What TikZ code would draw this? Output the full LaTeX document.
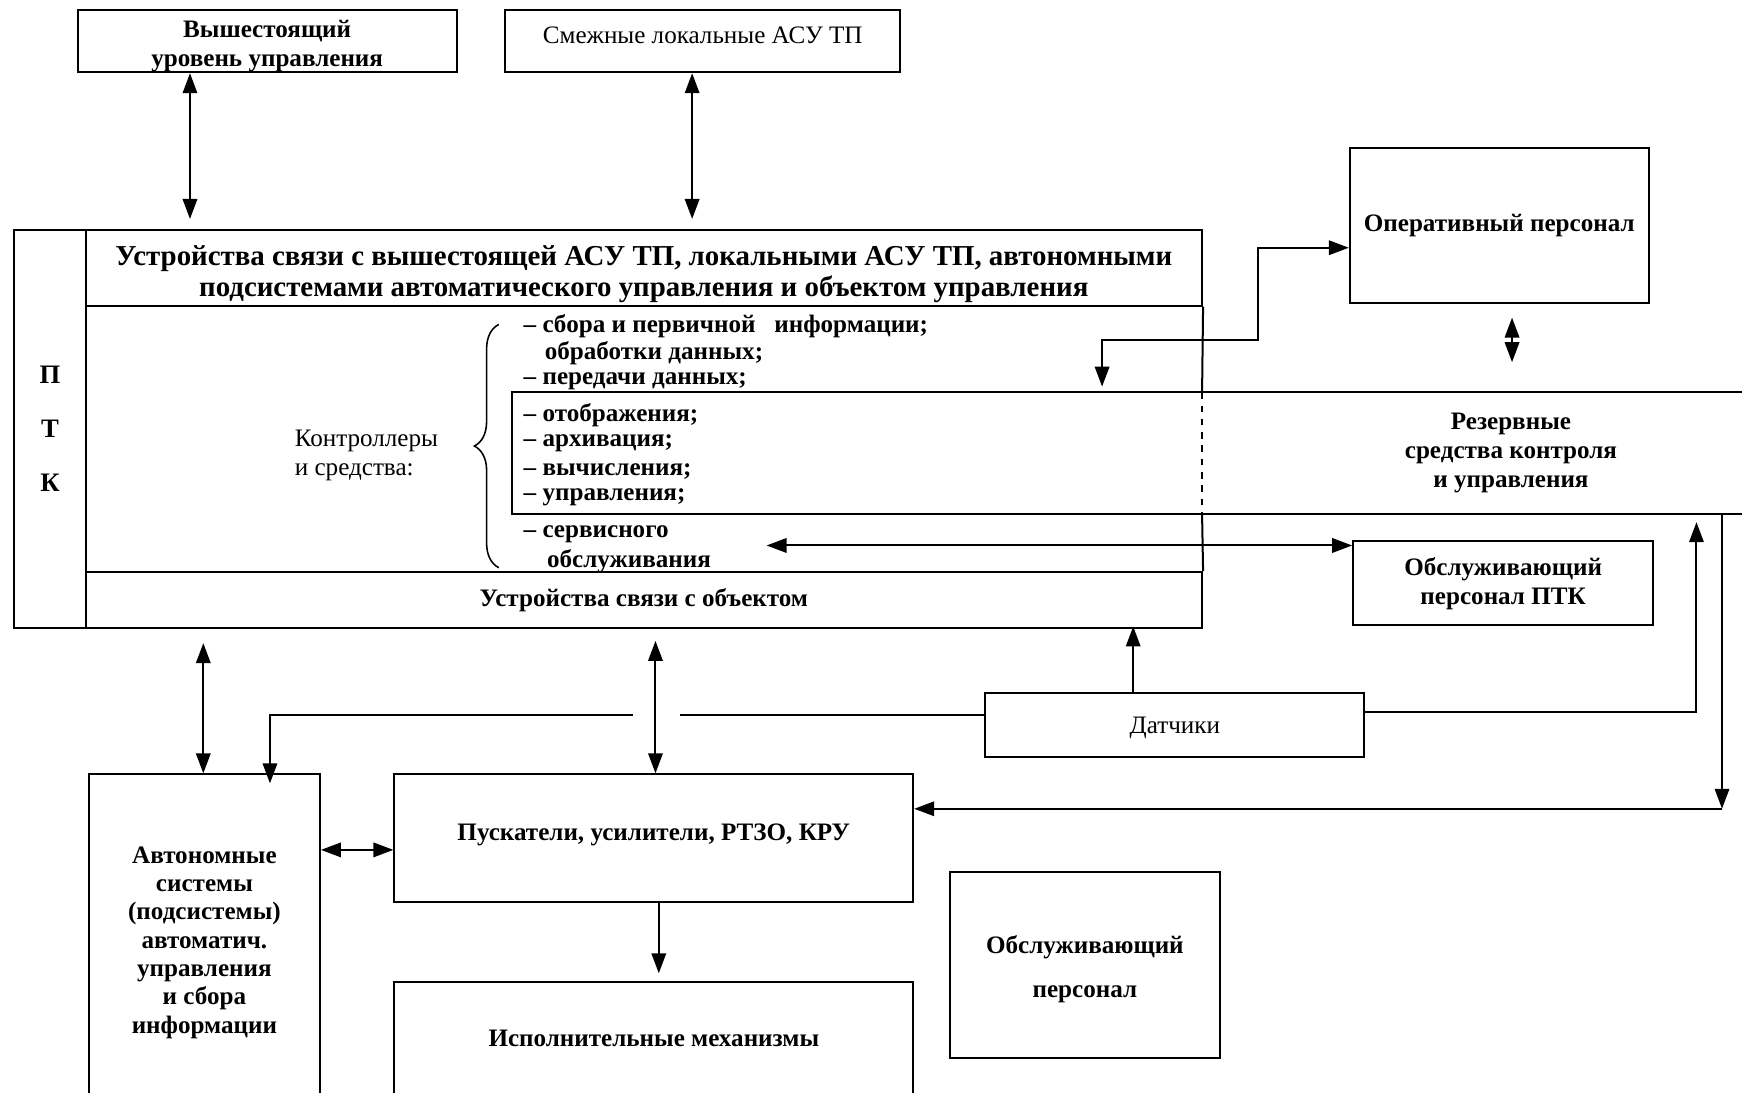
\documentclass[tikz,border=0pt]{standalone}
\usepackage{fontspec}
\setmainfont{Liberation Serif}
\usetikzlibrary{arrows.meta,decorations.pathreplacing}
\begin{document}
\begin{tikzpicture}[x=0.5pt,y=-0.5pt,
  edge/.style={line width=0.9pt},
  box/.style={draw, line width=0.9pt, inner sep=0pt, align=center},
  tb/.style={font=\fontsize{11.3}{13}\selectfont\bfseries, align=center},
  tr/.style={font=\fontsize{11.3}{13}\selectfont, align=center},
  arr/.style={edge, -{Triangle[length=9pt,width=6.5pt]}},
  dbl/.style={edge, {Triangle[length=9pt,width=6.5pt]}-{Triangle[length=9pt,width=6.5pt]}},
  item/.style={font=\fontsize{11.3}{13}\selectfont\bfseries, anchor=west, inner sep=0pt}
]
\useasboundingbox (0,0) rectangle (1568,983);

% top boxes
\node[box, tb, minimum width=170.5pt, minimum height=28pt] (A) at (240.5,37) {\rule{0pt}{12pt}Вышестоящий\\уровень управления};
\node[box, tr, minimum width=177.5pt, minimum height=28pt] (B) at (632.5,37) {Смежные локальные АСУ ТП\rule[-5.5pt]{0pt}{5.5pt}};

% main PTK block
\node[box, font=\fontsize{13}{14}\selectfont\bfseries, minimum width=502.5pt, minimum height=34pt] (hdr) at (579.5,241)
  {\rule{0pt}{15pt}Устройства связи с вышестоящей АСУ ТП, локальными АСУ ТП, автономными\\подсистемами автоматического управления и объектом управления};
\node[box, font=\fontsize{12}{24.5}\selectfont\bfseries, minimum width=32pt, minimum height=179pt] (ptk) at (45,386) {П\\Т\\К};
\node[box, tb, minimum width=502.5pt, minimum height=25pt] (svo) at (579.5,540) {Устройства связи с объектом};
\draw[edge] (hdr.south east) -- (1082,353);
\draw[edge, dashed] (1082,353) -- (1082,463);
\draw[edge] (1082,463) -- (svo.north east);

% reserve means band
\draw[edge] (1590,353) -- (461,353) -- (461,463) -- (1590,463);
\node[tb] (rez) at (1360,408) {Резервные\\средства контроля\\и управления};

% controllers
\node[tr, align=left, anchor=west, inner sep=0pt] (ktl) at (265,410) {Контроллеры\\и средства:};
\draw[line width=0.7pt, decorate, decoration={brace, amplitude=11pt, aspect=0.5}] (449,511) -- (449,292);
\node[item] (i1) at (471,294) {– сбора и первичной\ \ \ информации;};
\node[item] (i2) at (490,318) {обработки данных;};
\node[item] (i3) at (471,343) {– передачи данных;};
\node[item] (i4) at (471,374) {– отображения;};
\node[item] (i5) at (471,399) {– архивация;};
\node[item] (i6) at (471,424) {– вычисления;};
\node[item] (i7) at (471,448) {– управления;};
\node[item] (i8) at (471,481) {– сервисного};
\node[item] (i9) at (492,505) {обслуживания};

% right boxes
\node[box, tb, minimum width=134.5pt, minimum height=70pt] (op) at (1349.5,203) {Оперативный персонал};
\node[box, tb, minimum width=135pt, minimum height=38pt] (obs) at (1353,525) {Обслуживающий\\персонал ПТК};
\node[box, tr, minimum width=170.5pt, minimum height=28.5pt] (dat) at (1057.5,652.5) {\rule{0pt}{10pt}Датчики};

% lower boxes
\node[box, font=\fontsize{11.3}{12.75}\selectfont\bfseries, minimum width=104pt, minimum height=151.5pt] (avt) at (184,848.5)
  {Автономные\\системы\\(подсистемы)\\автоматич.\\управления\\и сбора\\информации};
\node[box, tb, minimum width=233.5pt, minimum height=57.5pt] (pusk) at (588.5,754.5) {Пускатели, усилители, РТЗО, КРУ\rule[-5pt]{0pt}{5pt}};
\node[box, tb, minimum width=233.5pt, minimum height=51pt] (isp) at (588.5,935) {Исполнительные механизмы};
\node[box, font=\fontsize{11.3}{20}\selectfont\bfseries, minimum width=121.5pt, minimum height=83.5pt] (obsp) at (976.5,868.5) {\rule{0pt}{12pt}Обслуживающий\\персонал};

% connectors
\coordinate (cop) at (992,348);
\coordinate (cserv) at (690,491);
\draw[dbl, shorten >=4.5pt] (A.south -| 171,0) -- (hdr.north -| 171,0);
\draw[dbl, shorten >=4.5pt] (B.south -| 623,0) -- (hdr.north -| 623,0);
\draw[dbl] (cop) -- (992,306) -- (1132,306) -- (1132,223) -- (op.west |- 0,223);
\draw[dbl, shorten <=6pt, shorten >=13.5pt] (op.south -| 1361,0) -- (1361,353);
\draw[dbl] (cserv) -- (obs.west |- 0,491);
\draw[arr, shorten >=-1pt] (dat.north -| 1020,0) -- (svo.south -| 1020,0);
\draw[arr, shorten >=3.5pt] (dat.east |- 0,641) -- (1527,641) -- (1527,463);
\draw[arr] (1550,463) -- (1550,728);
\draw[arr] (1550,728) -- (pusk.east |- 0,728);
\draw[edge] (dat.west |- 0,644) -- (243,644) -- (243,680);
\draw[arr, shorten >=-4.5pt] (243,678) -- (avt.north -| 243,0);
\fill[white] (570,636) rectangle (612,652);
\draw[dbl, shorten <=6.5pt] (svo.south -| 183,0) -- (avt.north -| 183,0);
\draw[dbl, shorten <=5.5pt] (svo.south -| 590,0) -- (pusk.north -| 590,0);
\draw[dbl] (avt.east |- 0,765) -- (pusk.west |- 0,765);
\draw[arr, shorten >=3.5pt] (pusk.south -| 593,0) -- (isp.north -| 593,0);
\end{tikzpicture}
\end{document}
